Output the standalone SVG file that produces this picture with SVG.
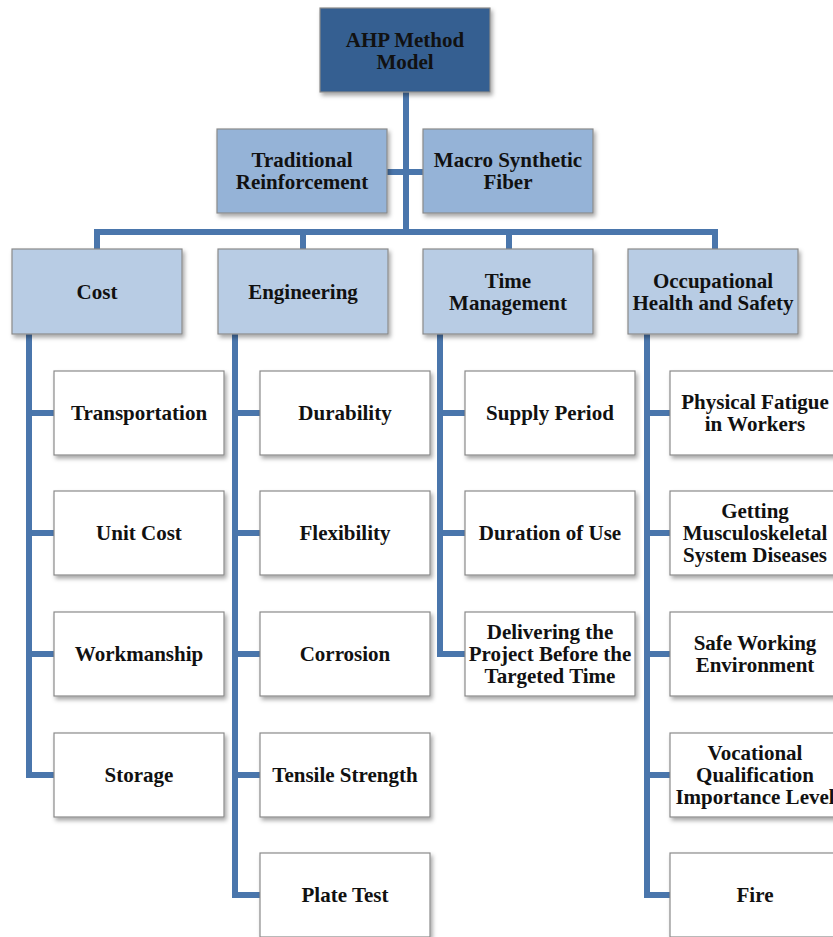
<svg xmlns="http://www.w3.org/2000/svg" width="833" height="937" viewBox="0 0 833 937">
<defs>
<filter id="sh" x="-10%" y="-10%" width="125%" height="135%">
<feDropShadow dx="2" dy="3" stdDeviation="2" flood-color="#000" flood-opacity="0.35"/>
</filter>
<style>
rect.b{stroke:#8a8a8a;stroke-width:1.2;filter:url(#sh)}
.root{fill:#365f91;stroke:#2a4a72}
.l1{fill:#95b3d7}
.l2{fill:#b8cce4}
.leaf{fill:#ffffff}
text{font-family:"Liberation Serif","Times New Roman","DejaVu Serif",serif;font-weight:bold;font-size:21px;fill:#111;text-anchor:middle}
.con path{fill:none;stroke:#4a76ac;stroke-width:6;stroke-linejoin:miter}
</style>
</defs>
<rect width="833" height="937" fill="#fff"/>
<g class="con">
<path d="M406,92 V232"/>
<path d="M387,172 H423"/>
<path d="M97,249 V232 H715 V249"/>
<path d="M303,232 V249"/>
<path d="M509,232 V249"/>
<path d="M29,334 V775 H54 M29,413 H54 M29,533 H54 M29,654 H54"/>
<path d="M235,334 V895 H260 M235,413 H260 M235,533 H260 M235,654 H260 M235,775 H260"/>
<path d="M440,334 V654 H465 M440,413 H465 M440,533 H465"/>
<path d="M647,334 V895 H670 M647,413 H670 M647,533 H670 M647,654 H670 M647,775 H670"/>
</g>
<g id="root"><rect class="b root" x="320" y="8" width="170" height="84"/><text x="405" y="47">AHP Method</text><text x="405" y="69">Model</text></g>
<g id="traditional"><rect class="b l1" x="217" y="129" width="170" height="84"/><text x="302" y="167">Traditional</text><text x="302" y="189">Reinforcement</text></g>
<g id="macro"><rect class="b l1" x="423" y="129" width="170" height="84"/><text x="508" y="167">Macro Synthetic</text><text x="508" y="189">Fiber</text></g>
<g id="cost"><rect class="b l2" x="12" y="249" width="170" height="85"/><text x="97" y="299">Cost</text></g>
<g id="engineering"><rect class="b l2" x="218" y="249" width="170" height="85"/><text x="303" y="299">Engineering</text></g>
<g id="time"><rect class="b l2" x="423" y="249" width="170" height="85"/><text x="508" y="288">Time</text><text x="508" y="310">Management</text></g>
<g id="ohs"><rect class="b l2" x="628" y="249" width="170" height="85"/><text x="713" y="288">Occupational</text><text x="713" y="310">Health and Safety</text></g>
<g id="transportation"><rect class="b leaf" x="54" y="371" width="170" height="84"/><text x="139" y="420">Transportation</text></g>
<g id="unitcost"><rect class="b leaf" x="54" y="491" width="170" height="84"/><text x="139" y="540">Unit Cost</text></g>
<g id="workmanship"><rect class="b leaf" x="54" y="612" width="170" height="84"/><text x="139" y="661">Workmanship</text></g>
<g id="storage"><rect class="b leaf" x="54" y="733" width="170" height="84"/><text x="139" y="782">Storage</text></g>
<g id="durability"><rect class="b leaf" x="260" y="371" width="170" height="84"/><text x="345" y="420">Durability</text></g>
<g id="flexibility"><rect class="b leaf" x="260" y="491" width="170" height="84"/><text x="345" y="540">Flexibility</text></g>
<g id="corrosion"><rect class="b leaf" x="260" y="612" width="170" height="84"/><text x="345" y="661">Corrosion</text></g>
<g id="tensile"><rect class="b leaf" x="260" y="733" width="170" height="84"/><text x="345" y="782">Tensile Strength</text></g>
<g id="plate"><rect class="b leaf" x="260" y="853" width="170" height="84"/><text x="345" y="902">Plate Test</text></g>
<g id="supply"><rect class="b leaf" x="465" y="371" width="170" height="84"/><text x="550" y="420">Supply Period</text></g>
<g id="duration"><rect class="b leaf" x="465" y="491" width="170" height="84"/><text x="550" y="540">Duration of Use</text></g>
<g id="delivering"><rect class="b leaf" x="465" y="612" width="170" height="84"/><text x="550" y="639">Delivering the</text><text x="550" y="661">Project Before the</text><text x="550" y="683">Targeted Time</text></g>
<g id="fatigue"><rect class="b leaf" x="670" y="371" width="170" height="84"/><text x="755" y="409">Physical Fatigue</text><text x="755" y="431">in Workers</text></g>
<g id="musculo"><rect class="b leaf" x="670" y="491" width="170" height="84"/><text x="755" y="518">Getting</text><text x="755" y="540">Musculoskeletal</text><text x="755" y="562">System Diseases</text></g>
<g id="safe"><rect class="b leaf" x="670" y="612" width="170" height="84"/><text x="755" y="650">Safe Working</text><text x="755" y="672">Environment</text></g>
<g id="vocational"><rect class="b leaf" x="670" y="733" width="170" height="84"/><text x="755" y="760">Vocational</text><text x="755" y="782">Qualification</text><text x="755" y="804">Importance Level</text></g>
<g id="fire"><rect class="b leaf" x="670" y="853" width="170" height="84"/><text x="755" y="902">Fire</text></g>
</svg>
